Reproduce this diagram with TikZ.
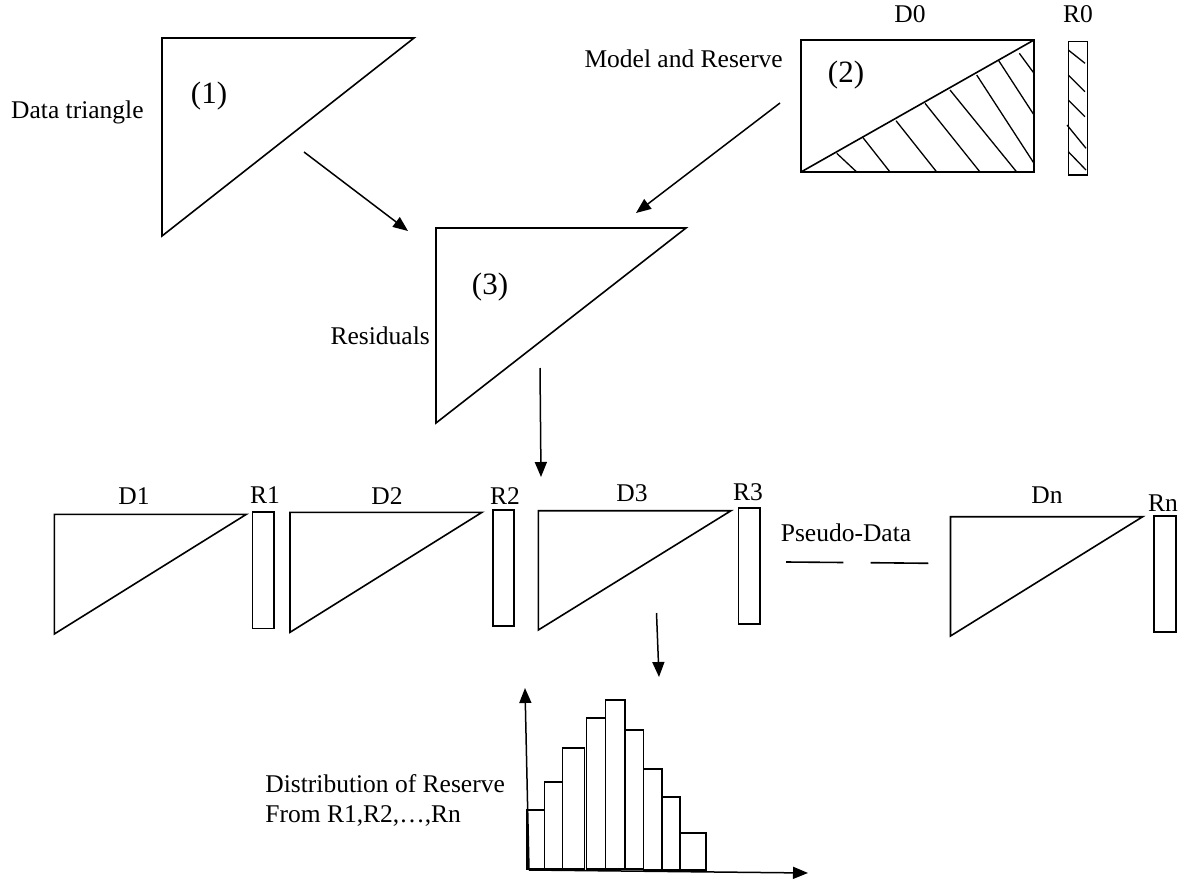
\documentclass[tikz,border=0pt]{standalone}
\usepackage{fontspec}
\setmainfont{Liberation Serif}
\usetikzlibrary{arrows.meta}
\begin{document}
\begin{tikzpicture}[x=1pt,y=-1pt,
  shp/.style={line width=1.6pt},
  hatch/.style={line width=1.3pt},
  arr/.style={line width=1.5pt,-{Triangle[length=15pt,width=12pt]}},
  lbl/.style={font=\fontsize{25.5}{30}\selectfont, inner sep=0pt},
  num/.style={font=\fontsize{31}{36}\selectfont, inner sep=0pt}]
\useasboundingbox (0,0) rectangle (1178,880);

% ---- (1) data triangle
\draw[shp] (162,38) -- (414,38) -- (162,236) -- cycle;
\node[lbl, anchor=base west] (tdata) at (11,118.3) {Data triangle};
\node[num] (n1) at (209,96) {(1)};

% ---- (2) model and reserve
\draw[shp] (801,40) rectangle (1034,172);
\draw[shp] (801,172) -- (1034,40);
\draw[hatch] (836.7,153.3) -- (856.7,172)
             (862.7,137.3) -- (890,172)
             (896,120.7) -- (936.7,172)
             (925,103.3) -- (980,172)
             (950,90) -- (1016.7,172)
             (976.7,75) -- (1034,163.3)
             (998.3,60) -- (1034,115)
             (1019.3,53.3) -- (1034,73.3);
\draw[shp] (1068.3,41.7) rectangle (1087.3,175);
\draw[hatch] (1068.3,50) -- (1085,63.3)
             (1068.3,75) -- (1085,91.7)
             (1068.3,100) -- (1085,116.7)
             (1067,125) -- (1086,148.3)
             (1068.3,151.7) -- (1086,170);
\node[num] (n2) at (846,75) {(2)};
\node[lbl, anchor=base east] (tmodel) at (783,68) {Model and Reserve};
\node[lbl, anchor=base] (d0) at (910,23) {D0};
\node[lbl, anchor=base] (r0) at (1078,23) {R0};

% ---- (3) residuals
\draw[shp] (436,228) -- (686,228) -- (436,423) -- cycle;
\node[num] (n3) at (490,287) {(3)};
\node[lbl, anchor=base east] (tres) at (430,344) {Residuals};

% ---- arrows
\coordinate (a1s) at (304,152); \coordinate (a1e) at (408,231);
\coordinate (a2s) at (780,103); \coordinate (a2e) at (636,213);
\coordinate (a3s) at (540,368); \coordinate (a3e) at (541,477);
\coordinate (a4s) at (656.5,613); \coordinate (a4e) at (659,677);
\draw[arr] (a1s) -- (a1e);
\draw[arr] (a2s) -- (a2e);
\draw[arr] (a3s) -- (a3e);
\draw[arr] (a4s) -- (a4e);

% ---- pseudo-data row
\draw[shp] (54.3,514.3) -- (246.4,514.3) -- (54.3,634) -- cycle;
\draw[shp] (252.5,511.7) rectangle (274,628.3);
\draw[shp] (290,512.3) -- (482,512.3) -- (290,632.3) -- cycle;
\draw[shp] (493,510) rectangle (514,626);
\draw[shp] (538.3,510.7) -- (731,510.7) -- (538.3,630) -- cycle;
\draw[shp] (738.3,508) rectangle (759.7,624);
\draw[shp] (950.5,516.7) -- (1142.7,516.7) -- (950.5,636) -- cycle;
\draw[shp] (1154,516) rectangle (1176,632);
\node[lbl, anchor=base] (d1) at (134,504) {D1};
\node[lbl, anchor=base] (r1) at (265,503) {R1};
\node[lbl, anchor=base] (d2) at (387,504) {D2};
\node[lbl, anchor=base] (r2) at (505,504) {R2};
\node[lbl, anchor=base] (d3) at (632,501) {D3};
\node[lbl, anchor=base] (r3) at (748,500) {R3};
\node[lbl, anchor=base] (dn) at (1047,503) {Dn};
\node[lbl, anchor=base] (rn) at (1163,511) {Rn};
\node[lbl, anchor=base] (pseudo) at (846,541) {Pseudo-Data};
\coordinate (p1a) at (786,562); \coordinate (p1b) at (843.3,562.5);
\coordinate (p2a) at (870.7,562.7); \coordinate (p2b) at (928.3,563.3);
\draw[shp] (p1a) -- (p1b);
\draw[shp] (p2a) -- (p2b);

% ---- histogram
\coordinate (o) at (529,870);
\coordinate (ytip) at (525,688);
\coordinate (xtip) at (808,873);
\draw[shp] (527,869) rectangle (544.5,810);
\draw[shp] (544.5,869) rectangle (562.5,782);
\draw[shp] (562.5,869) rectangle (584.5,748);
\draw[shp] (586.5,869) rectangle (605.5,718);
\draw[shp] (605.5,869) rectangle (625,700);
\draw[shp] (625,869) rectangle (643.5,730);
\draw[shp] (643.5,870) rectangle (662,769);
\draw[shp] (662,870) rectangle (680,797);
\draw[shp] (680,870) rectangle (706,833);
\draw[arr] (o) -- (ytip);
\draw[arr] (o) -- (xtip);
\node[lbl, anchor=base east] (dist) at (505,792) {Distribution of Reserve};
\node[lbl, anchor=base west] (from) at ([yshift=-30pt]dist.base west) {From R1,R2,…,Rn};
\end{tikzpicture}
\end{document}
